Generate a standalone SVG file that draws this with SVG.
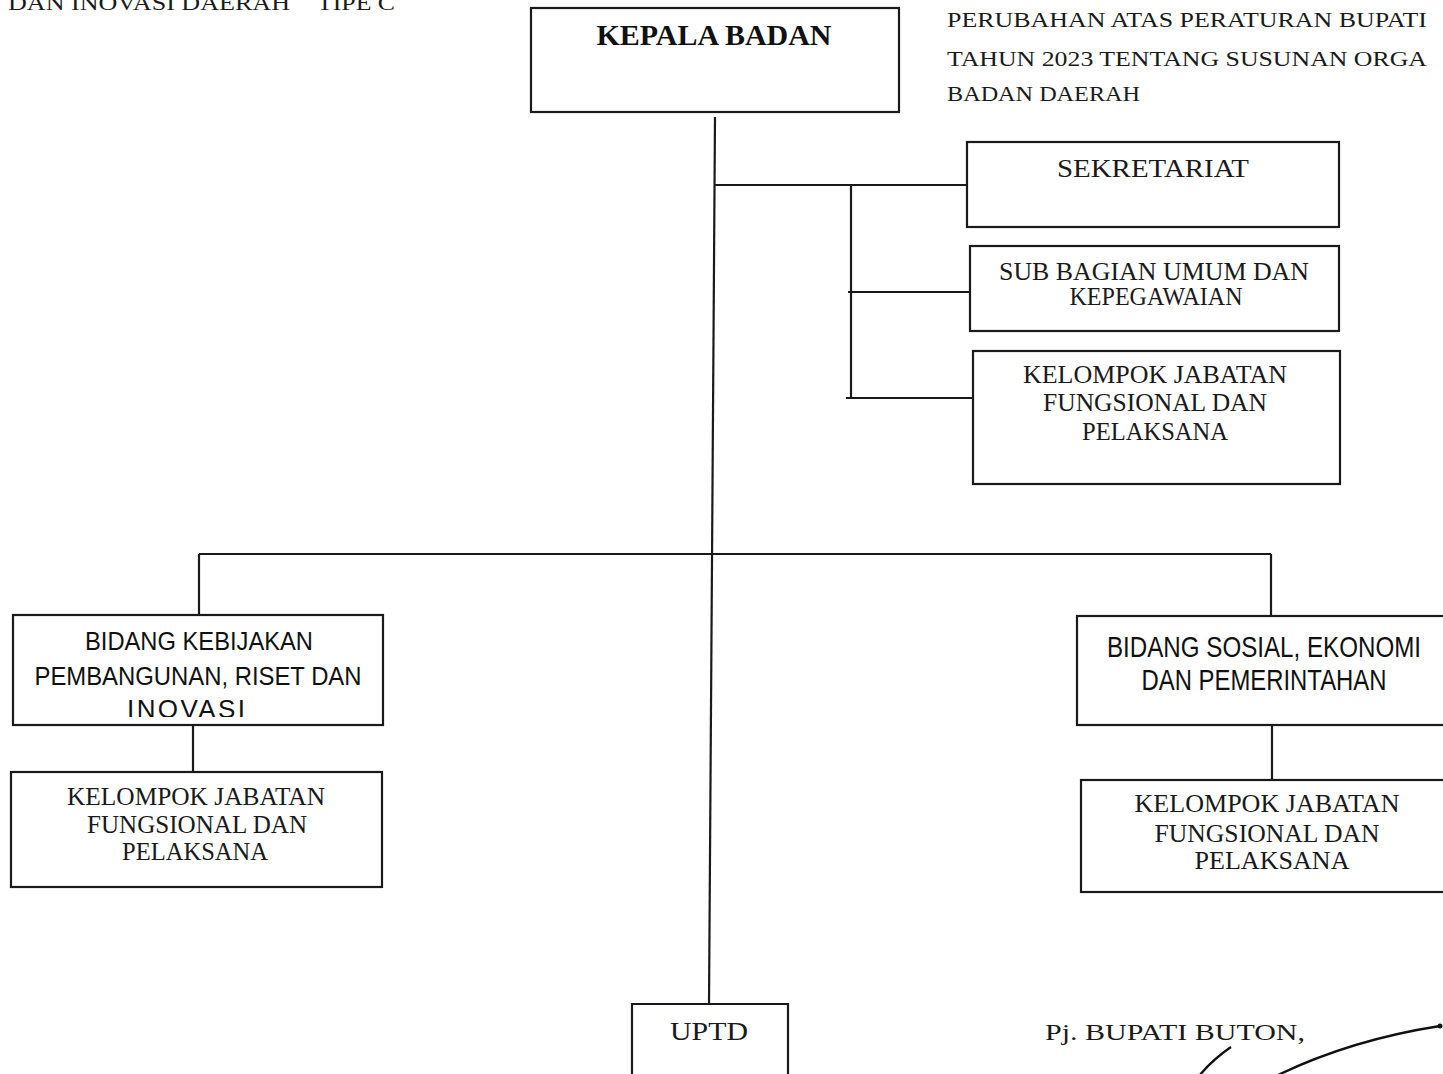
<svg xmlns="http://www.w3.org/2000/svg" width="1443" height="1074" viewBox="0 0 1443 1074">
<style>
.box{fill:none;stroke:#1a1a1a;stroke-width:2.2}
.ln{fill:none;stroke:#1a1a1a;stroke-width:2.2}
.sr{font-family:"Liberation Serif","DejaVu Serif",serif;font-size:25px;fill:#1a1a1a}
.sb{font-family:"Liberation Serif","DejaVu Serif",serif;font-size:29px;font-weight:bold;fill:#111}
.ss{font-family:"Liberation Sans",Arial,sans-serif;font-size:26px;fill:#111}
.hd{font-family:"Liberation Serif","DejaVu Serif",serif;font-size:22px;fill:#1a1a1a}
.c{text-anchor:middle}
</style>
<defs>
<clipPath id="clipInovasi"><rect x="13" y="690" width="370" height="27"/></clipPath>
</defs>
<rect width="1443" height="1074" fill="#ffffff"/>

<g id="header-left">
<text class="hd" x="8" y="10" textLength="282" lengthAdjust="spacingAndGlyphs">DAN INOVASI DAERAH</text>
<text class="hd" x="317" y="10" textLength="78" lengthAdjust="spacingAndGlyphs">TIPE C</text>
</g>
<g id="header-right">
<text class="hd" x="947" y="27" textLength="480" lengthAdjust="spacingAndGlyphs">PERUBAHAN ATAS PERATURAN BUPATI</text>
<text class="hd" x="947" y="66" textLength="480" lengthAdjust="spacingAndGlyphs">TAHUN 2023 TENTANG SUSUNAN ORGA</text>
<text class="hd" x="947" y="101" textLength="193" lengthAdjust="spacingAndGlyphs">BADAN DAERAH</text>
</g>

<g id="connectors">
<path class="ln" d="M715 117 L709 1004"/>
<path class="ln" d="M715 185 H967"/>
<path class="ln" d="M851 185 V398"/>
<path class="ln" d="M848 292 H970"/>
<path class="ln" d="M846 398 H973"/>
<path class="ln" d="M199 554 H1271"/>
<path class="ln" d="M199 554 V615"/>
<path class="ln" d="M1271 554 V616"/>
<path class="ln" d="M193 725 V772"/>
<path class="ln" d="M1272 725 V780"/>
</g>

<g id="kepala-badan">
<rect class="box" x="531" y="8" width="368" height="104"/>
<text class="sb c" x="714" y="45" textLength="235" lengthAdjust="spacingAndGlyphs">KEPALA BADAN</text>
</g>

<g id="sekretariat">
<rect class="box" x="967" y="142" width="372" height="85"/>
<text class="sr c" x="1153" y="177" textLength="192" lengthAdjust="spacingAndGlyphs">SEKRETARIAT</text>
</g>

<g id="sub-bagian">
<rect class="box" x="970" y="246" width="369" height="85"/>
<text class="sr c" x="1154" y="280" textLength="310" lengthAdjust="spacingAndGlyphs">SUB BAGIAN UMUM DAN</text>
<text class="sr c" x="1156" y="305" textLength="173" lengthAdjust="spacingAndGlyphs">KEPEGAWAIAN</text>
</g>

<g id="kelompok-sekretariat">
<rect class="box" x="973" y="351" width="367" height="133"/>
<text class="sr c" x="1155" y="383" textLength="264" lengthAdjust="spacingAndGlyphs">KELOMPOK JABATAN</text>
<text class="sr c" x="1155" y="411" textLength="224" lengthAdjust="spacingAndGlyphs">FUNGSIONAL DAN</text>
<text class="sr c" x="1155" y="440" textLength="146" lengthAdjust="spacingAndGlyphs">PELAKSANA</text>
</g>

<g id="bidang-kebijakan">
<rect class="box" x="13" y="615" width="370" height="110"/>
<text class="ss c" x="199" y="650" textLength="228" lengthAdjust="spacingAndGlyphs">BIDANG KEBIJAKAN</text>
<text class="ss c" x="198" y="685" textLength="327" lengthAdjust="spacingAndGlyphs">PEMBANGUNAN, RISET DAN</text>
<text class="ss c" x="186" y="718" textLength="118" lengthAdjust="spacing" clip-path="url(#clipInovasi)">INOVASI</text>
</g>

<g id="kelompok-kebijakan">
<rect class="box" x="11" y="772" width="371" height="115"/>
<text class="sr c" x="196" y="805" textLength="258" lengthAdjust="spacingAndGlyphs">KELOMPOK JABATAN</text>
<text class="sr c" x="197" y="833" textLength="220" lengthAdjust="spacingAndGlyphs">FUNGSIONAL DAN</text>
<text class="sr c" x="195" y="860" textLength="146" lengthAdjust="spacingAndGlyphs">PELAKSANA</text>
</g>

<g id="bidang-sosial">
<rect class="box" x="1077" y="616" width="380" height="109"/>
<text class="ss c" x="1264" y="657" textLength="314" lengthAdjust="spacingAndGlyphs" style="font-size:30px">BIDANG  SOSIAL, EKONOMI</text>
<text class="ss c" x="1264" y="690" textLength="245" lengthAdjust="spacingAndGlyphs" style="font-size:30px">DAN PEMERINTAHAN</text>
</g>

<g id="kelompok-sosial">
<rect class="box" x="1081" y="780" width="376" height="112"/>
<text class="sr c" x="1267" y="812" textLength="265" lengthAdjust="spacingAndGlyphs">KELOMPOK JABATAN</text>
<text class="sr c" x="1267" y="842" textLength="225" lengthAdjust="spacingAndGlyphs">FUNGSIONAL DAN</text>
<text class="sr c" x="1272" y="869" textLength="155" lengthAdjust="spacingAndGlyphs">PELAKSANA</text>
</g>

<g id="uptd">
<path class="box" d="M632 1080 V1004 H788 V1080"/>
<text class="sr c" x="709" y="1040" textLength="78" lengthAdjust="spacingAndGlyphs" style="font-size:25px">UPTD</text>
</g>

<g id="signature">
<text class="sr" x="1045" y="1040" textLength="260" lengthAdjust="spacingAndGlyphs" style="font-size:24px">Pj. BUPATI BUTON,</text>
<path d="M1231 1047 Q1212 1060 1199 1076" fill="none" stroke="#111" stroke-width="2.4"/>
<path d="M1276 1076 Q1350 1040 1440 1026" fill="none" stroke="#111" stroke-width="2.4"/>
<circle cx="1440" cy="1026" r="2.5" fill="#111"/>
</g>
</svg>
